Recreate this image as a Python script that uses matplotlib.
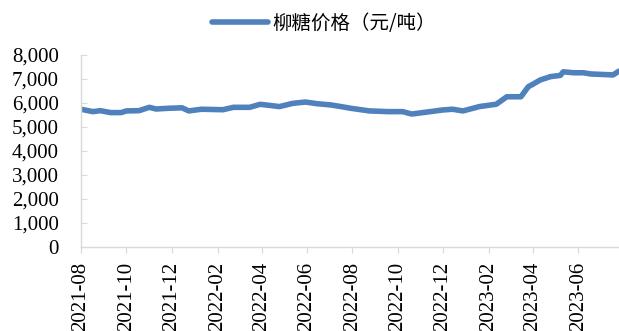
import pandas as pd
import matplotlib
matplotlib.use("Agg")
import matplotlib.pyplot as plt
import matplotlib.dates as mdates
from matplotlib.ticker import FuncFormatter

# 柳糖价格（元/吨）
dates = [
    "2021-08-01", "2021-08-17", "2021-08-27", "2021-09-10", "2021-09-24",
    "2021-10-01", "2021-10-18", "2021-11-01", "2021-11-10", "2021-11-27",
    "2021-12-15", "2021-12-24", "2022-01-10", "2022-02-08", "2022-02-22",
    "2022-03-16", "2022-03-30", "2022-04-12", "2022-04-25", "2022-05-13",
    "2022-05-30", "2022-06-15", "2022-07-03", "2022-07-17", "2022-07-30",
    "2022-08-24", "2022-09-19", "2022-10-08", "2022-10-20", "2022-11-04",
    "2022-12-01", "2022-12-14", "2022-12-28", "2023-01-19", "2023-02-11",
    "2023-02-25", "2023-03-16", "2023-03-26", "2023-04-01", "2023-04-11",
    "2023-04-25", "2023-05-08", "2023-05-12", "2023-05-26", "2023-06-08",
    "2023-06-18", "2023-07-18", "2023-07-26",
]
prices = [
    5740, 5640, 5680, 5600, 5600,
    5670, 5680, 5820, 5750, 5780,
    5800, 5670, 5740, 5720, 5820,
    5820, 5945, 5900, 5850, 5985,
    6040, 5970, 5920, 5850, 5780,
    5670, 5640, 5640, 5540, 5600,
    5710, 5740, 5670, 5850, 5950,
    6260, 6260, 6680, 6780, 6960,
    7100, 7150, 7300, 7260, 7260,
    7210, 7170, 7330,
]
series_name = "柳糖价格（元/吨）"

dt = pd.to_datetime(dates)

plt.rcParams["font.family"] = ["Liberation Serif", "Noto Sans CJK SC"]

fig = plt.figure(figsize=(6.19, 3.31), dpi=100)
ax = fig.add_axes([81 / 619, 1 - 247 / 331, 1 - 81 / 619, (247 - 55) / 331])

line, = ax.plot(dt, prices, color="#4F81BD", lw=4.0, solid_capstyle="round",
                solid_joinstyle="round", label=series_name)

ax.set_ylim(0, 8000)
ax.set_yticks(range(0, 8001, 1000))
ax.yaxis.set_major_formatter(FuncFormatter(lambda v, p: f"{int(v):,}"))
ax.set_xlim(dt[0], dt[-1])
ax.xaxis.set_major_locator(mdates.MonthLocator(bymonth=[2, 4, 6, 8, 10, 12]))
ax.xaxis.set_major_formatter(mdates.DateFormatter("%Y-%m"))

for side in ("top", "right"):
    ax.spines[side].set_visible(False)
for side in ("left", "bottom"):
    ax.spines[side].set_color("#d9d9d9")
    ax.spines[side].set_linewidth(1.0)

ax.tick_params(axis="y", direction="in", length=4.5, color="#d9d9d9",
               labelsize=15, pad=16)
ax.tick_params(axis="x", direction="out", length=4.5, color="#d9d9d9",
               labelsize=15, rotation=90, pad=6)

fig.legend(handles=[line], loc="center", bbox_to_anchor=(324 / 619, 1 - 23 / 331),
           frameon=False, handlelength=2.9, handletextpad=0.2,
           prop={"family": ["Noto Sans CJK SC"], "size": 14})

fig.savefig("out.png", dpi=100)
